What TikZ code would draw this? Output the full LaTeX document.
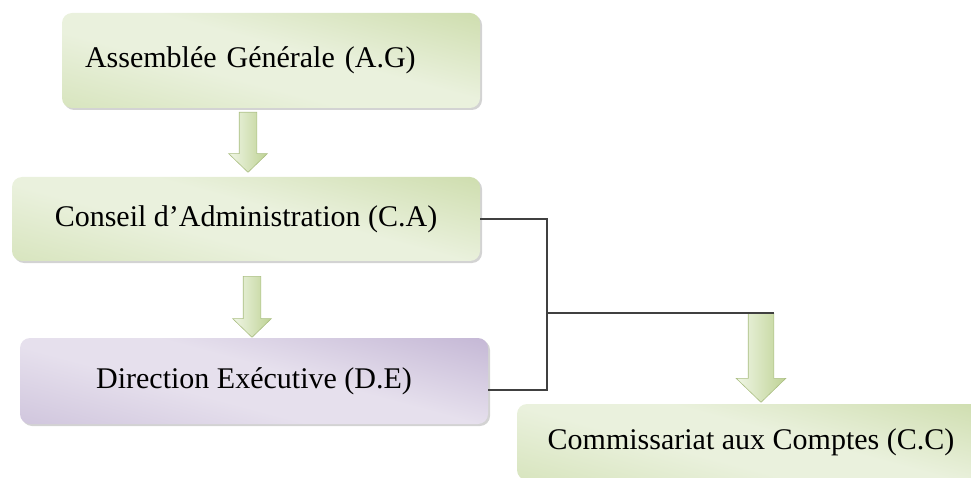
\documentclass[tikz,border=0pt]{standalone}
\usepackage{fontspec}
\setmainfont{Liberation Serif}
\usetikzlibrary{shapes.arrows,shadows}
\definecolor{greenDark}{RGB}{186,207,140}
\definecolor{greenMid}{RGB}{200,218,164}
\definecolor{greenLight}{RGB}{234,241,221}
\definecolor{purpleDark}{RGB}{172,154,196}
\definecolor{purpleMid}{RGB}{190,176,208}
\definecolor{purpleLight}{RGB}{230,224,237}
\definecolor{arrowDark}{RGB}{190,210,148}
\definecolor{arrowLight}{RGB}{240,246,230}
\definecolor{arrowEdge}{RGB}{170,190,130}
\pgfdeclareverticalshading{greenshade}{100bp}{color(0bp)=(greenMid);
  color(42bp)=(greenLight); color(55bp)=(greenLight); color(100bp)=(greenDark)}
\pgfdeclareverticalshading{purpleshade}{100bp}{color(0bp)=(purpleMid);
  color(42bp)=(purpleLight); color(55bp)=(purpleLight); color(100bp)=(purpleDark)}
\tikzset{
  orgbox/.style={rounded corners=10pt, inner sep=0pt, draw=none,
    font=\fontsize{30}{36}\selectfont,
    drop shadow={shadow xshift=2pt, shadow yshift=-2pt, opacity=.35}},
  greenbox/.style={orgbox, shading=greenshade, shading angle=-15},
  purplebox/.style={orgbox, shading=purpleshade, shading angle=-15},
  blockarrow/.style={single arrow, shape border rotate=270, anchor=tail,
    inner ysep=0pt, single arrow tip angle=92, left color=arrowLight,
    right color=arrowDark, draw=arrowEdge, line width=.6pt},
  link/.style={draw=black!75, line width=1.2pt}
}
\begin{document}
\begin{tikzpicture}[x=1pt,y=-1pt]
\useasboundingbox (0,0) rectangle (971,478);
\clip (0,0) rectangle (971,478);
% boxes
\node[greenbox, minimum width=418pt, minimum height=95pt, text width=372pt,
  inner xsep=23pt, align=left] (ag) at (271,60.5) {Assemblée Générale (A.G)};
\node[greenbox, minimum width=468pt, minimum height=84pt] (ca) at (246,219)
  {Conseil d’Administration (C.A)};
\node[purplebox, minimum width=468pt, minimum height=86pt] (de) at (254,381)
  {Direction Exécutive (D.E)};
\node[greenbox, minimum width=468pt, minimum height=76pt] (cc) at (751,442)
  {Commissariat aux Comptes (C.C)};
% arrows
\node[blockarrow, inner xsep=8.5pt, minimum height=60pt,
  single arrow head extend=10.5pt] (a1) at (248,112) {};
\node[blockarrow, inner xsep=8.5pt, minimum height=61pt,
  single arrow head extend=10.5pt] (a2) at (252,276) {};
\node[blockarrow, inner xsep=12.5pt, minimum height=89pt,
  single arrow head extend=12pt] (a3) at (761,313) {};
% links
\coordinate (j) at (547,313);
\draw[link] (ca.east) -| (j) |- ([yshift=-9pt]de.east);
\draw[link] (j) -- ([xshift=12.5pt]a3.tail);
\end{tikzpicture}
\end{document}
